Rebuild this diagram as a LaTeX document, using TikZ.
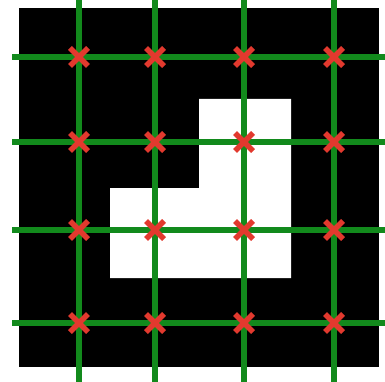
\documentclass[tikz,border=0pt]{standalone}
\definecolor{gridgreen}{HTML}{128A1C}
\definecolor{markred}{HTML}{E2392E}
\tikzset{
  gridline/.style={gridgreen, line width=6pt},
  crossmark/.style={markred, line width=5.5pt},
}
\begin{document}
\begin{tikzpicture}[x=1pt,y=-1pt]
\useasboundingbox (0,0) rectangle (385,382);
\fill[white] (0,0) rectangle (385,382);
% black image area
\fill[black] (19,8) rectangle (379,367);
% white L-shaped object
\fill[white] (199,99) -- (291,99) -- (291,278) -- (110,278) -- (110,188) -- (199,188) -- cycle;
% grid lines
\foreach \x in {79,155,244,334} \draw[gridline] (\x,0) -- (\x,382);
\foreach \y in {57,142,230,323} \draw[gridline] (12,\y) -- (385,\y);
% crosses at intersections
\foreach \x in {79,155,244,334}
  \foreach \y in {57,142,230,323}
    \draw[crossmark] (\x-9,\y-9) -- (\x+9,\y+9) (\x-9,\y+9) -- (\x+9,\y-9);
\end{tikzpicture}
\end{document}
